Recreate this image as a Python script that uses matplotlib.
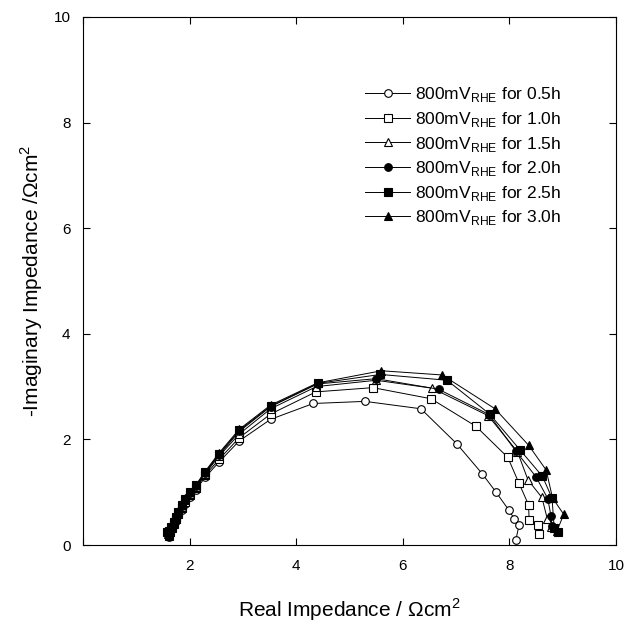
import matplotlib
matplotlib.use('Agg')
import matplotlib.pyplot as plt

plt.rcParams['font.family'] = ['Liberation Sans', 'DejaVu Sans']
plt.rcParams['mathtext.fontset'] = 'custom'
plt.rcParams['mathtext.rm'] = 'Liberation Sans'

##### Nyquist data (real, -imag) in ohm cm2
x_05 = [1.62, 1.64, 1.67, 1.70, 1.74, 1.79, 1.85, 1.92, 2.00, 2.12, 2.29, 2.55, 2.93, 3.52, 4.32,
        5.29, 6.34, 7.01, 7.49, 7.75, 7.99, 8.09, 8.18, 8.12]
y_05 = [0.15, 0.22, 0.30, 0.38, 0.46, 0.56, 0.66, 0.78, 0.90, 1.05, 1.28, 1.57, 1.97, 2.38, 2.68,
        2.72, 2.58, 1.92, 1.35, 1.00, 0.66, 0.50, 0.37, 0.09]

x_10 = [1.62, 1.64, 1.67, 1.70, 1.74, 1.79, 1.85, 1.92, 2.00, 2.12, 2.29, 2.55, 2.93, 3.52, 4.37,
        5.44, 6.53, 7.37, 7.97, 8.18, 8.36, 8.37, 8.54, 8.56]
y_10 = [0.17, 0.24, 0.32, 0.40, 0.49, 0.59, 0.70, 0.82, 0.94, 1.08, 1.32, 1.62, 2.03, 2.48, 2.90,
        2.98, 2.77, 2.25, 1.66, 1.17, 0.76, 0.48, 0.38, 0.20]

x_15 = [1.61, 1.63, 1.66, 1.70, 1.74, 1.79, 1.85, 1.92, 2.00, 2.12, 2.29, 2.55, 2.93, 3.52, 4.38,
        5.50, 6.55, 7.60, 8.15, 8.35, 8.61, 8.71, 8.78]
y_15 = [0.18, 0.25, 0.33, 0.42, 0.51, 0.61, 0.72, 0.85, 0.97, 1.10, 1.35, 1.68, 2.10, 2.58, 3.00,
        3.12, 2.97, 2.45, 1.77, 1.23, 0.90, 0.50, 0.35]

x_20 = [1.61, 1.63, 1.66, 1.70, 1.74, 1.79, 1.85, 1.92, 2.00, 2.12, 2.29, 2.55, 2.93, 3.52, 4.40,
        5.50, 6.67, 7.62, 8.12, 8.50, 8.72, 8.78, 8.80]
y_20 = [0.18, 0.26, 0.34, 0.43, 0.52, 0.62, 0.74, 0.87, 0.99, 1.12, 1.37, 1.70, 2.15, 2.62, 3.05,
        3.15, 2.95, 2.47, 1.78, 1.29, 0.88, 0.55, 0.36]

x_25 = [1.57, 1.62, 1.66, 1.70, 1.74, 1.79, 1.85, 1.92, 2.00, 2.12, 2.29, 2.55, 2.93, 3.52, 4.40,
        5.58, 6.83, 7.63, 8.20, 8.62, 8.80, 8.84, 8.92]
y_25 = [0.24, 0.26, 0.34, 0.43, 0.53, 0.63, 0.75, 0.88, 1.00, 1.13, 1.38, 1.72, 2.17, 2.63, 3.06,
        3.23, 3.12, 2.48, 1.80, 1.30, 0.89, 0.33, 0.24]

x_30 = [1.60, 1.63, 1.66, 1.70, 1.74, 1.79, 1.85, 1.92, 2.00, 2.12, 2.29, 2.55, 2.93, 3.52, 4.40,
        5.60, 6.74, 7.73, 8.36, 8.69, 8.81, 9.02, 8.89]
y_30 = [0.20, 0.27, 0.35, 0.44, 0.54, 0.64, 0.76, 0.89, 1.01, 1.14, 1.39, 1.74, 2.19, 2.65, 3.07,
        3.30, 3.22, 2.58, 1.89, 1.42, 0.89, 0.58, 0.26]

hours = ['0.5', '1.0', '1.5', '2.0', '2.5', '3.0']
xs = [x_05, x_10, x_15, x_20, x_25, x_30]
ys = [y_05, y_10, y_15, y_20, y_25, y_30]
markers = ['o', 's', '^', 'o', 's', '^']
faces = ['white', 'white', 'white', 'black', 'black', 'black']

fig = plt.figure(figsize=(6.26, 6.24), dpi=100)
ax = fig.add_axes([0.1326, 0.1266, 0.8514, 0.8462])

for x, y, m, fc, h in zip(xs, ys, markers, faces, hours):
    ax.plot(x, y, color='black', lw=0.7, marker=m, markersize=5.5,
            markerfacecolor=fc, markeredgecolor='black', markeredgewidth=0.8,
            label=r'800mV$_{\mathregular{RHE}}$ for ' + h + 'h')

ax.set_xlim(0, 10)
ax.set_ylim(0, 10)
ax.set_xticks([0, 2, 4, 6, 8, 10])
ax.set_xticklabels(['', '2', '4', '6', '8', '10'])
ax.set_yticks([0, 2, 4, 6, 8, 10])
ax.tick_params(direction='in', length=5, width=0.8, top=True, right=True,
               labelsize=11)
ax.tick_params(axis='x', pad=10)
ax.tick_params(axis='y', pad=9)
for s in ax.spines.values():
    s.set_linewidth(0.8)

ax.set_xlabel(r'Real Impedance / $\Omega$cm$^2$', fontsize=15, labelpad=17)
ax.set_ylabel(r'-Imaginary Impedance /$\Omega$cm$^2$', fontsize=15, labelpad=6)

leg = ax.legend(loc='upper left', bbox_to_anchor=(0.5, 0.9), frameon=False,
                fontsize=12.5, handlelength=2.6, handletextpad=0.3,
                labelspacing=0.32)

plt.savefig('out.png', dpi=100)
